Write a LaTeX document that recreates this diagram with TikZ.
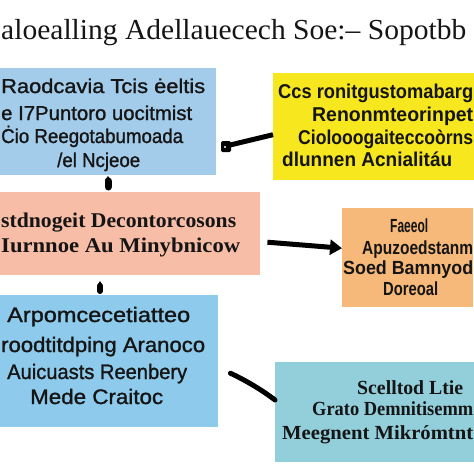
\documentclass[tikz,border=0pt]{standalone}
\usepackage{fontspec}
\usepackage{graphicx}
\setmainfont{Liberation Serif}
\newfontfamily\boxsans{Liberation Sans}
\newfontfamily\boxsemi[FakeBold=1.2]{Liberation Sans}
\usetikzlibrary{arrows.meta}
\newcommand{\fitw}[3]{\resizebox{#1pt}{\height}{#2#3}}
\definecolor{cone}{HTML}{A3CBEA}
\definecolor{ctwo}{HTML}{F7E71F}
\definecolor{cthree}{HTML}{F8BDA6}
\definecolor{cfour}{HTML}{F7B97A}
\definecolor{cfive}{HTML}{8ECAEB}
\definecolor{csix}{HTML}{93CEDB}
\definecolor{txt}{HTML}{151515}
\tikzset{
  panel/.style={draw=none, inner sep=0pt, anchor=north west},
  ln/.style={anchor=base west, inner sep=0pt, text=txt},
  conn/.style={draw=black, line width=5pt, line cap=round},
  stub/.style={draw=black, line width=7pt, line cap=round},
}
\begin{document}
\begin{tikzpicture}[x=1pt,y=-1pt]
\useasboundingbox (0,0) rectangle (474,474);
\clip (0,0) rectangle (474,474);
\fill[white] (0,0) rectangle (474,474);
% title
\node[ln] (title) at (1,39) {\fitw{465}{\fontsize{29}{32}\selectfont}{aloealling Adellauecech Soe:– Sopotbb}};
% boxes
\node[panel, fill=cone, minimum width=216pt, minimum height=107pt] (b1) at (0,68) {};
\node[panel, fill=ctwo, minimum width=201pt, minimum height=107pt] (b2) at (273,73) {};
\node[panel, fill=cthree, minimum width=260pt, minimum height=83pt] (b3) at (0,192) {};
\node[panel, fill=cfour, minimum width=131pt, minimum height=99pt] (b4) at (342,208) {};
\node[panel, fill=cfive, minimum width=218pt, minimum height=132pt] (b5) at (0,295) {};
\node[panel, fill=csix, minimum width=199pt, minimum height=100pt] (b6) at (275,362) {};
% box 1 text
\node[ln] (t1a) at (1,93) {\fitw{204}{\boxsemi\fontsize{20}{22}\selectfont}{Raodcavia Tcis ėeltis}};
\node[ln] (t1b) at (1,120) {\fitw{191}{\boxsemi\fontsize{20}{22}\selectfont}{e I7Puntoro uocitmist}};
\node[ln] (t1c) at (1,143) {\fitw{182}{\boxsemi\fontsize{20}{22}\selectfont}{Ċio Reegotabumoada}};
\node[ln] (t1d) at (57,167) {\fitw{83}{\boxsemi\fontsize{20}{22}\selectfont}{/el Ncjeoe}};
% box 2 text
\node[ln] (t2a) at (278,98) {\fitw{195}{\boxsans\bfseries\fontsize{20}{22}\selectfont}{Ccs ronitgustomabarg}};
\node[ln] (t2b) at (312,121) {\fitw{161}{\boxsans\bfseries\fontsize{20}{22}\selectfont}{Renonmteorinpet}};
\node[ln] (t2c) at (298,144) {\fitw{175}{\boxsans\bfseries\fontsize{20}{22}\selectfont}{Ciolooogaiteccoòrns}};
\node[ln] (t2d) at (282,166) {\fitw{170}{\boxsans\bfseries\fontsize{20}{22}\selectfont}{dlunnen Acnialitáu}};
% box 3 text
\node[ln] (t3a) at (1,227) {\fitw{235}{\bfseries\fontsize{21}{22}\selectfont}{stdnogeit Decontorcosons}};
\node[ln] (t3b) at (1,252) {\fitw{239}{\bfseries\fontsize{21}{22}\selectfont}{Iurnnoe Au Minybnicow}};
% box 4 text
\node[ln] (t4a) at (390,232) {\fitw{38}{\boxsans\bfseries\fontsize{19}{22}\selectfont}{Faeeol}};
\node[ln] (t4b) at (362,254) {\fitw{111}{\boxsans\bfseries\fontsize{19}{22}\selectfont}{Apuzoedstanm}};
\node[ln] (t4c) at (343,274) {\fitw{130}{\boxsans\bfseries\fontsize{19}{22}\selectfont}{Soed Bamnyod}};
\node[ln] (t4d) at (383,295) {\fitw{55}{\boxsans\bfseries\fontsize{19}{22}\selectfont}{Doreoal}};
% box 5 text
\node[ln] (t5a) at (7,322) {\fitw{183}{\boxsemi\fontsize{21}{22}\selectfont}{Arpomcecetiatteo}};
\node[ln] (t5b) at (1,352) {\fitw{204}{\boxsemi\fontsize{21}{22}\selectfont}{roodtitdping Aranoco}};
\node[ln] (t5c) at (7,379) {\fitw{180}{\boxsemi\fontsize{21}{22}\selectfont}{Auicuasts Reenbery}};
\node[ln] (t5d) at (30,404) {\fitw{133}{\boxsemi\fontsize{21}{22}\selectfont}{Mede Craitoc}};
% box 6 text
\node[ln] (t6a) at (357,394) {\fitw{106}{\bfseries\fontsize{20}{22}\selectfont}{Scelltod Ltie}};
\node[ln] (t6b) at (312,415) {\fitw{161}{\bfseries\fontsize{20}{22}\selectfont}{Grato Demnitisemm}};
\node[ln] (t6c) at (282,439) {\fitw{191}{\bfseries\fontsize{20}{22}\selectfont}{Meegnent Mikrómtnt}};
% connectors
\coordinate (k1a) at (108,181);
\coordinate (k1b) at (108,187);
\draw[stub] (k1a) -- (k1b);
\fill (105,180) -- (108,176) -- (111,180) -- cycle;
\coordinate (k2a) at (100,286);
\coordinate (k2b) at (100,291);
\draw[stub, line width=6pt] (k2a) -- (k2b);
\fill (97.5,285) -- (100,281) -- (102.5,285) -- cycle;
\coordinate (e1) at (226,146);
\draw[conn, line cap=butt] (e1) -- ([yshift=-8pt]b2.west);
\fill[rounded corners=1.5pt] (221,141) rectangle (231,152);
\fill[white] (225,147) circle (1.2);
\draw[conn, line cap=butt, -{Triangle[length=12pt,width=15pt]}] ([xshift=7pt,yshift=-8.5pt]b3.east) -- ([yshift=9.5pt]b4.west);
\draw[conn] ([xshift=12pt,yshift=-12pt]b5.east) .. controls +(15,7) and +(-13,-10) .. (b6.west |- 0,400);
\end{tikzpicture}
\end{document}
